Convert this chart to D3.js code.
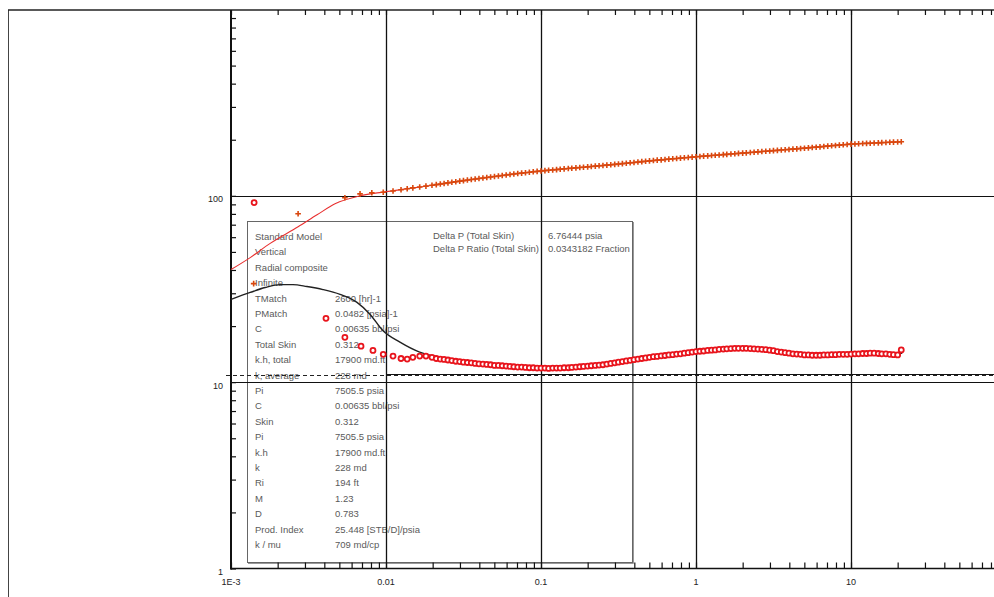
<!DOCTYPE html>
<html>
<head>
<meta charset="utf-8">
<script src="https://cdn.jsdelivr.net/npm/d3@7/dist/d3.min.js"></script>
<style>
  html, body { margin: 0; padding: 0; background: #fff; }
  svg { display: block; }
  text { font-family: "Liberation Sans", Arial, sans-serif; }
</style>
</head>
<body>
<svg id="chart" width="994" height="597"></svg>
<script>
// ---- Data: log-log diagnostic plot (elapsed time [hr] vs pressure change / derivative [psi]) ----

// Early-time pressure change points
const pressureEarlyTime  = [0.00140, 0.00271, 0.00543, 0.0068, 0.0081, 0.0096, 0.0111, 0.0125, 0.0137, 0.0149, 0.0165, 0.0181, 0.0198];
const pressureEarlyValue = [33.8, 80.1, 97.6, 102.5, 103.8, 104.6, 106.2, 107.9, 109.2, 110.3, 111.5, 112.7, 113.9];

// Early-time derivative points
const derivEarlyTime  = [0.00141, 0.0041, 0.00543, 0.0069, 0.00824, 0.0096, 0.0111, 0.0125, 0.0137, 0.0149, 0.0165, 0.0181, 0.0198];
const derivEarlyValue = [92.0, 22.0, 17.4, 15.6, 14.8, 14.1, 13.8, 13.4, 13.3, 13.6, 13.8, 13.8, 13.6];

// Main sampling times [hr]
const sampleTime = [
  0.0211, 0.0224, 0.0237, 0.0251, 0.0266, 0.0282, 0.0299, 0.0316, 0.0335, 0.0355,
  0.0376, 0.0398, 0.0422, 0.0447, 0.0473, 0.0501, 0.0531, 0.0562, 0.0596, 0.0631,
  0.0668, 0.0708, 0.0750, 0.0794, 0.0841, 0.0891, 0.0944,
  0.100, 0.106, 0.112, 0.119, 0.126, 0.133, 0.141, 0.150, 0.158, 0.168,
  0.178, 0.188, 0.200, 0.211, 0.224, 0.237, 0.251, 0.266, 0.282, 0.299,
  0.316, 0.335, 0.355, 0.376, 0.398, 0.422, 0.447, 0.473, 0.501, 0.531,
  0.562, 0.596, 0.631, 0.668, 0.708, 0.750, 0.794, 0.841, 0.891, 0.944,
  1.00, 1.06, 1.12, 1.19, 1.26, 1.33, 1.41, 1.50, 1.58, 1.68,
  1.78, 1.88, 2.00, 2.11, 2.24, 2.37, 2.51, 2.66, 2.82, 2.99,
  3.16, 3.35, 3.55, 3.76, 3.98, 4.22, 4.47, 4.73, 5.01, 5.31,
  5.62, 5.96, 6.31, 6.68, 7.08, 7.50, 7.94, 8.41, 8.91, 9.44,
  10.0, 10.6, 11.2, 11.9, 12.6, 13.3, 14.1, 15.0, 15.8, 16.8,
  17.8, 18.8, 20.0, 21.1
];

// Pressure change at the sampling times [psi]
const pressureValue = [
  114.8, 115.7, 116.5, 117.4, 118.2, 119.1, 119.9, 120.7, 121.5, 122.3,
  123.1, 123.9, 124.7, 125.5, 126.2, 127.0, 127.8, 128.6, 129.3, 130.1,
  130.9, 131.7, 132.4, 133.1, 133.8, 134.6, 135.3,
  136.0, 136.6, 137.2, 137.7, 138.3, 138.9, 139.5, 140.1, 140.7, 141.2,
  141.8, 142.4, 143.0, 143.6, 144.3, 144.9, 145.5, 146.2, 146.8, 147.5,
  148.2, 148.9, 149.6, 150.4, 151.1, 151.8, 152.6, 153.3, 154.0, 154.7,
  155.4, 156.0, 156.7, 157.4, 158.0, 158.7, 159.3, 160.0, 160.7, 161.3,
  162.0, 162.6, 163.3, 163.9, 164.5, 165.1, 165.7, 166.4, 167.0, 167.6,
  168.2, 168.9, 169.5, 170.1, 170.8, 171.5, 172.1, 172.8, 173.4, 174.1,
  174.8, 175.4, 176.1, 176.7, 177.4, 178.1, 178.7, 179.4, 180.0, 180.8,
  181.6, 182.4, 183.2, 184.0, 184.8, 185.6, 186.3, 187.1, 187.9, 188.7,
  189.5, 189.9, 190.4, 190.8, 191.2, 191.6, 192.1, 192.5, 192.9, 193.3,
  193.8, 194.2, 194.6, 195.1
];

// Pressure derivative at the sampling times [psi]
const derivValue = [
  13.4, 13.3, 13.25, 13.15, 13.05, 12.95, 12.9, 12.8, 12.75, 12.7,
  12.6, 12.55, 12.5, 12.45, 12.4, 12.3, 12.3, 12.25, 12.2, 12.15,
  12.1, 12.05, 12.05, 12.0, 11.95, 11.95, 11.9,
  11.9, 11.9, 11.85, 11.9, 11.9, 11.9, 11.95, 11.95, 12.0, 12.05,
  12.1, 12.15, 12.2, 12.25, 12.3, 12.35, 12.4, 12.5, 12.6, 12.7,
  12.8, 12.9, 13.0, 13.1, 13.2, 13.3, 13.4, 13.5, 13.6, 13.7,
  13.75, 13.85, 13.9, 14.0, 14.05, 14.15, 14.2, 14.3, 14.4, 14.5,
  14.6, 14.65, 14.7, 14.8, 14.85, 14.9, 15.0, 15.05, 15.1, 15.15,
  15.2, 15.2, 15.2, 15.2, 15.15, 15.1, 15.05, 15.0, 14.95, 14.85,
  14.75, 14.6, 14.5, 14.4, 14.3, 14.2, 14.15, 14.1, 14.0, 14.0,
  13.95, 13.95, 13.95, 14.0, 14.0, 14.05, 14.05, 14.1, 14.1, 14.1,
  14.15, 14.2, 14.2, 14.25, 14.25, 14.3, 14.3, 14.25, 14.2, 14.2,
  14.1, 14.05, 14.0, 14.9
];

// Model (radial composite) pressure change curve
const modelPTime  = [0.001, 0.00133, 0.00178, 0.00271, 0.00359, 0.00469, 0.0068, 0.0098, 0.02, 0.05, 0.1, 0.3, 1, 3, 10, 21];
const modelPValue = [40.2, 46.6, 55.4, 68.2, 79.1, 90.6, 100, 105, 114, 127, 136, 147.5, 162, 174.2, 189.5, 195];

// Model derivative curve
const modelDTime  = [0.001, 0.00133, 0.00166, 0.00207, 0.00251, 0.00309, 0.00392, 0.00505, 0.0065, 0.0079, 0.0095,
                     0.0123, 0.0165, 0.0222, 0.0347, 0.0545, 0.098, 0.178, 0.30, 0.50, 0.98, 1.79, 3.0, 4.6, 9.9, 21.4];
const modelDValue = [27.8, 30.3, 32.2, 33.4, 33.4, 32.6, 31.4, 29.6, 26.8, 23.1, 19.0,
                     16.4, 14.5, 13.6, 12.8, 12.2, 11.9, 12.2, 12.8, 13.6, 14.6, 15.2, 15.0, 14.3, 14.1, 14.3];

// Radial-flow stabilisation level [psi]
const stabilisationLevel = 10.95;

// Axis labels
const xTickValues = [0.001, 0.01, 0.1, 1, 10];
const xTickLabels = ["1E-3", "0.01", "0.1", "1", "10"];
const yTickValues = [1, 10, 100];
const yTickLabels = ["1", "10", "100"];

// Results panel
const resultLabels = ["Standard Model", "Vertical", "Radial composite", "Infinite",
  "TMatch", "PMatch", "C", "Total Skin", "k.h, total", "k, average", "Pi", "C", "Skin", "Pi",
  "k.h", "k", "Ri", "M", "D", "Prod. Index", "k / mu"];
const resultValues = ["", "", "", "",
  "2600 [hr]-1", "0.0482 [psia]-1", "0.00635 bbl/psi", "0.312", "17900 md.ft", "228 md",
  "7505.5 psia", "0.00635 bbl/psi", "0.312", "7505.5 psia", "17900 md.ft", "228 md",
  "194 ft", "1.23", "0.783", "25.448 [STB/D]/psia", "709 md/cp"];
const skinLabels = ["Delta P (Total Skin)", "Delta P Ratio (Total Skin)"];
const skinValues = ["6.76444 psia", "0.0343182 Fraction"];

// ---- Drawing ----
const svg = d3.select("#chart");
const W = 994, H = 597;

const x = d3.scaleLog().domain([1e-3, 100]).range([231, 1006]);
const y = d3.scaleLog().domain([1, 1000]).range([568.5, 9.5]);
const plotTop = 10, plotBottom = y(1), plotLeft = x(1e-3);

// Outer frame
svg.append("line").attr("x1", 8.5).attr("x2", 8.5).attr("y1", plotTop).attr("y2", H)
  .attr("stroke", "#444").attr("stroke-width", 1);
svg.append("line").attr("x1", 8).attr("x2", W).attr("y1", plotTop).attr("y2", plotTop)
  .attr("stroke", "#222").attr("stroke-width", 1.5);

// Results panel (drawn underneath the curves)
const panel = svg.append("g");
const px0 = 247, py0 = 221, px1 = 632, py1 = 562;
panel.append("line").attr("x1", px1 + 1.5).attr("x2", px1 + 1.5).attr("y1", py0 + 1).attr("y2", py1 + 1.5)
  .attr("stroke", "#999").attr("stroke-width", 1);
panel.append("line").attr("x1", px0 + 1).attr("x2", px1 + 1.5).attr("y1", py1 + 1.5).attr("y2", py1 + 1.5)
  .attr("stroke", "#999").attr("stroke-width", 1);
panel.append("rect").attr("x", px0 + 0.5).attr("y", py0 + 0.5)
  .attr("width", px1 - px0).attr("height", py1 - py0)
  .attr("fill", "none").attr("stroke", "#666").attr("stroke-width", 1);

const rowStep = 15.4;
const textStyle = sel => sel.attr("font-size", 9.5).attr("fill", "#5a5a5a");
panel.selectAll("text.lbl").data(resultLabels).join("text")
  .attr("class", "lbl")
  .attr("x", 255).attr("y", (d, i) => 240 + i * rowStep)
  .call(textStyle).text(d => d);
panel.selectAll("text.val").data(resultValues).join("text")
  .attr("class", "val")
  .attr("x", 335).attr("y", (d, i) => 240 + i * rowStep)
  .call(textStyle).text(d => d);
panel.selectAll("text.skl").data(skinLabels).join("text")
  .attr("class", "skl")
  .attr("x", 433).attr("y", (d, i) => 239 + i * 12.5)
  .call(textStyle).text(d => d);
panel.selectAll("text.skv").data(skinValues).join("text")
  .attr("class", "skv")
  .attr("x", 548).attr("y", (d, i) => 239 + i * 12.5)
  .call(textStyle).text(d => d);

// Grid lines at the decades
const grid = svg.append("g").attr("stroke", "#111");
grid.selectAll("line.v").data([0.01, 0.1, 1, 10]).join("line")
  .attr("class", "v")
  .attr("x1", d => Math.round(x(d)) + 0.5).attr("x2", d => Math.round(x(d)) + 0.5)
  .attr("y1", plotTop).attr("y2", plotBottom)
  .attr("stroke-width", 1.3);
grid.selectAll("line.h").data([10, 100]).join("line")
  .attr("class", "h")
  .attr("x1", plotLeft).attr("x2", W)
  .attr("y1", d => Math.round(y(d)) + 0.5).attr("y2", d => Math.round(y(d)) + 0.5)
  .attr("stroke-width", 1.2);

// Stabilisation line
const ys = Math.round(y(stabilisationLevel)) + 0.5;
svg.append("line").attr("x1", x(0.01)).attr("x2", W).attr("y1", ys - 1).attr("y2", ys - 1)
  .attr("stroke", "#111").attr("stroke-width", 1);
svg.append("line").attr("x1", 226).attr("x2", W).attr("y1", ys).attr("y2", ys)
  .attr("stroke", "#222").attr("stroke-width", 1).attr("stroke-dasharray", "4,3");

// Axes: log minor ticks pointing into the plot
const minorX = [];
for (let e = -3; e <= 1; e++) for (let m = 1; m <= 9; m++) minorX.push(m * Math.pow(10, e));
const minorY = [];
for (let e = 0; e <= 2; e++) for (let m = 1; m <= 9; m++) minorY.push(m * Math.pow(10, e));

const styleTicks = g => {
  g.select(".domain").remove();
  g.selectAll("line").attr("stroke", "#111").attr("stroke-width", 1.2);
};
svg.append("g").attr("transform", `translate(0,${plotTop})`)
  .call(d3.axisTop(x).tickValues(minorX).tickSize(-5).tickFormat(""))
  .call(styleTicks);
svg.append("g").attr("transform", `translate(0,${plotBottom})`)
  .call(d3.axisBottom(x).tickValues(minorX).tickSize(-6).tickFormat(""))
  .call(styleTicks);
svg.append("g").attr("transform", `translate(${plotLeft},0)`)
  .call(d3.axisLeft(y).tickValues(minorY).tickSize(-5).tickFormat(""))
  .call(styleTicks);

// Axis lines
svg.append("line").attr("x1", plotLeft).attr("x2", plotLeft).attr("y1", plotTop).attr("y2", plotBottom + 1)
  .attr("stroke", "#111").attr("stroke-width", 2);
svg.append("line").attr("x1", plotLeft - 1).attr("x2", W).attr("y1", plotBottom).attr("y2", plotBottom)
  .attr("stroke", "#111").attr("stroke-width", 1.6);

// Tick labels
svg.selectAll("text.xt").data(xTickValues).join("text")
  .attr("class", "xt")
  .attr("x", d => x(d)).attr("y", plotBottom + 16.5)
  .attr("text-anchor", "middle").attr("font-size", 9).attr("fill", "#222")
  .text((d, i) => xTickLabels[i]);
svg.selectAll("text.yt").data(yTickValues).join("text")
  .attr("class", "yt")
  .attr("x", 223).attr("y", d => y(d) + 6.5)
  .attr("text-anchor", "end").attr("font-size", 9).attr("fill", "#222")
  .text((d, i) => yTickLabels[i]);

// Model derivative curve
const lineGen = d3.line().x(d => x(d[0])).y(d => y(d[1])).curve(d3.curveMonotoneX);
svg.append("path")
  .datum(modelDTime.map((t, i) => [t, modelDValue[i]]))
  .attr("d", lineGen).attr("fill", "none").attr("stroke", "#222").attr("stroke-width", 1.4);

// Derivative data (open red circles)
const derivPts = derivEarlyTime.map((t, i) => [t, derivEarlyValue[i]])
  .concat(sampleTime.map((t, i) => [t, derivValue[i]]));
svg.append("g").selectAll("circle").data(derivPts).join("circle")
  .attr("cx", d => x(d[0])).attr("cy", d => y(d[1])).attr("r", 2.5)
  .attr("fill", "#fff").attr("stroke", "#e8141c").attr("stroke-width", 1.8);

// Model pressure curve
svg.append("path")
  .datum(modelPTime.map((t, i) => [t, modelPValue[i]]))
  .attr("d", lineGen).attr("fill", "none").attr("stroke", "#e83030").attr("stroke-width", 1.1);

// Pressure data (plus markers)
const pressPts = pressureEarlyTime.map((t, i) => [t, pressureEarlyValue[i]])
  .concat(sampleTime.map((t, i) => [t, pressureValue[i]]));
const plusShape = {
  draw(ctx) {
    const r = 2.8;
    ctx.moveTo(-r, 0); ctx.lineTo(r, 0);
    ctx.moveTo(0, -r); ctx.lineTo(0, r);
  }
};
svg.append("g").selectAll("path").data(pressPts).join("path")
  .attr("transform", d => `translate(${x(d[0])},${y(d[1])})`)
  .attr("d", d3.symbol().type(plusShape).size(1))
  .attr("fill", "none").attr("stroke", "#d9480f").attr("stroke-width", 1.6);
</script>
</body>
</html>
